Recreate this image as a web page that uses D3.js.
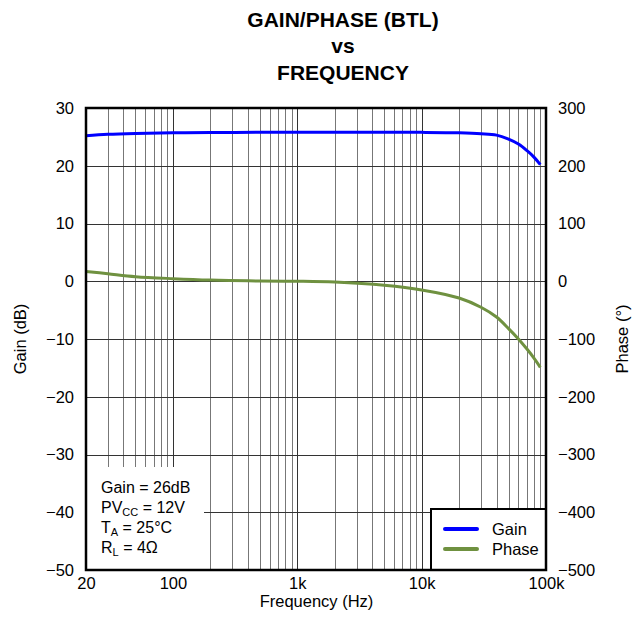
<!DOCTYPE html>
<html><head><meta charset="utf-8">
<script src="https://cdn.jsdelivr.net/npm/d3@7"></script>
<style>body{margin:0;background:#fff}text{font-family:"Liberation Sans",Arial,sans-serif}</style>
</head><body>
<svg id="c" width="641" height="618"></svg>
<script>
const freq = [20,30,50,100,200,500,1000,2000,5000,10000,20000,30000,40000,50000,60000,70000,80000,90000];
const gainDb = [25.2,25.45,25.6,25.7,25.75,25.8,25.8,25.8,25.8,25.78,25.7,25.55,25.3,24.6,23.75,22.65,21.5,20.2];
const phaseDeg = [17,13,8,4.5,2,0.5,0,-1.5,-7,-15,-29,-45,-62,-82,-100,-117,-133,-149];
const gainTicks = [30,20,10,0,-10,-20,-30,-40,-50];
const phaseTicks = [300,200,100,0,-100,-200,-300,-400,-500];
const freqTicks = [20,100,1000,10000,100000];
const freqTickLabels = ["20","100","1k","10k","100k"];
const titleLines = ["GAIN/PHASE (BTL)","vs","FREQUENCY"];
const seriesNames = ["Gain","Phase"];

const svg = d3.select("#c");
const L=86,R=546,T=108,B=570;
const x = d3.scaleLog().domain([20,100000]).range([L,R]);
const yG = d3.scaleLinear().domain([-50,30]).range([B,T]);
const yP = d3.scaleLinear().domain([-500,300]).range([B,T]);
const blue="#0000ff", green="#6f9140";

// title
titleLines.forEach((t,i)=>svg.append("text").attr("x",343).attr("y",26.5+i*26.7)
  .attr("text-anchor","middle").attr("font-size",21).attr("font-weight","bold").text(t));

// gridlines
const vgrid=[];
for(let d=10; d<=100000; d*=10){ for(let m=1;m<=9;m++){ const v=d*m; if(v>=20&&v<=100000) vgrid.push(v);} }
const g=svg.append("g");
g.selectAll(".v").data(vgrid).join("line").attr("x1",d=>Math.round(x(d))+0.5).attr("x2",d=>Math.round(x(d))+0.5)
 .attr("y1",T).attr("y2",B).attr("stroke",d=>(Math.log10(d)%1===0)?"#333":"#777").attr("stroke-width",1);
g.selectAll(".h").data(gainTicks).join("line").attr("y1",d=>Math.round(yG(d))+0.5).attr("y2",d=>Math.round(yG(d))+0.5)
 .attr("x1",L).attr("x2",R).attr("stroke","#333").attr("stroke-width",1);

// curves
const lineG = d3.line().x((d,i)=>x(freq[i])).y(d=>yG(d)).curve(d3.curveCatmullRom.alpha(0.5));
const lineP = d3.line().x((d,i)=>x(freq[i])).y(d=>yP(d)).curve(d3.curveCatmullRom.alpha(0.5));
svg.append("path").attr("d",lineP(phaseDeg)).attr("fill","none").attr("stroke",green).attr("stroke-width",3);
svg.append("path").attr("d",lineG(gainDb)).attr("fill","none").attr("stroke",blue).attr("stroke-width",3);

// conditions box
const cb=svg.append("g");
cb.append("rect").attr("x",L).attr("y",467).attr("width",204-L).attr("height",B-467).attr("fill","#fff");
const cond=[["Gain = 26dB",null,""],["PV","CC"," = 12V"],["T","A"," = 25°C"],["R","L"," = 4Ω"]];
cond.forEach((c,i)=>{
  const t=cb.append("text").attr("x",101).attr("y",493+i*20).attr("font-size",16);
  if(c[1]===null){t.text(c[0]);return;}
  t.append("tspan").text(c[0]);
  t.append("tspan").attr("dy",3).attr("font-size",11).text(c[1]);
  t.append("tspan").attr("dy",-3).text(c[2]);
});

// legend
const lg=svg.append("g");
lg.append("rect").attr("x",431).attr("y",509).attr("width",R-431).attr("height",B-509).attr("fill","#fff").attr("stroke","#000").attr("stroke-width",2);
[blue,green].forEach((col,i)=>{
  lg.append("line").attr("x1",445).attr("x2",477).attr("y1",529+i*20).attr("y2",529+i*20).attr("stroke",col).attr("stroke-width",4).attr("stroke-linecap","round");
  lg.append("text").attr("x",492).attr("y",535+i*20).attr("font-size",16.5).text(seriesNames[i]);
});

// frame
svg.append("rect").attr("x",L).attr("y",T).attr("width",R-L).attr("height",B-T).attr("fill","none").attr("stroke","#000").attr("stroke-width",2.5);

// axes
const fmtMinus = v=>String(v).replace("-","\u2212");
const axL=svg.append("g").attr("transform",`translate(${L},0)`).call(d3.axisLeft(yG).tickValues(gainTicks).tickSize(0).tickPadding(12).tickFormat(fmtMinus));
const axR=svg.append("g").attr("transform",`translate(${R},0)`).call(d3.axisRight(yP).tickValues(phaseTicks).tickSize(0).tickPadding(12).tickFormat(fmtMinus));
const axB=svg.append("g").attr("transform",`translate(0,${B})`).call(d3.axisBottom(x).tickValues(freqTicks).tickSize(0).tickPadding(7).tickFormat((d,i)=>freqTickLabels[i]));
[axL,axR,axB].forEach(a=>{a.select(".domain").remove();a.selectAll("text").attr("font-size",16.5).attr("fill","#000").style("font-family","Liberation Sans, Arial, sans-serif");});

// axis titles
svg.append("text").attr("transform","translate(26,339) rotate(-90)").attr("text-anchor","middle").attr("font-size",16.5).text("Gain (dB)");
svg.append("text").attr("transform","translate(628,339) rotate(-90)").attr("text-anchor","middle").attr("font-size",16.5).text("Phase (°)");
svg.append("text").attr("x",316.5).attr("y",607).attr("text-anchor","middle").attr("font-size",16.5).text("Frequency (Hz)");
</script>
</body></html>
